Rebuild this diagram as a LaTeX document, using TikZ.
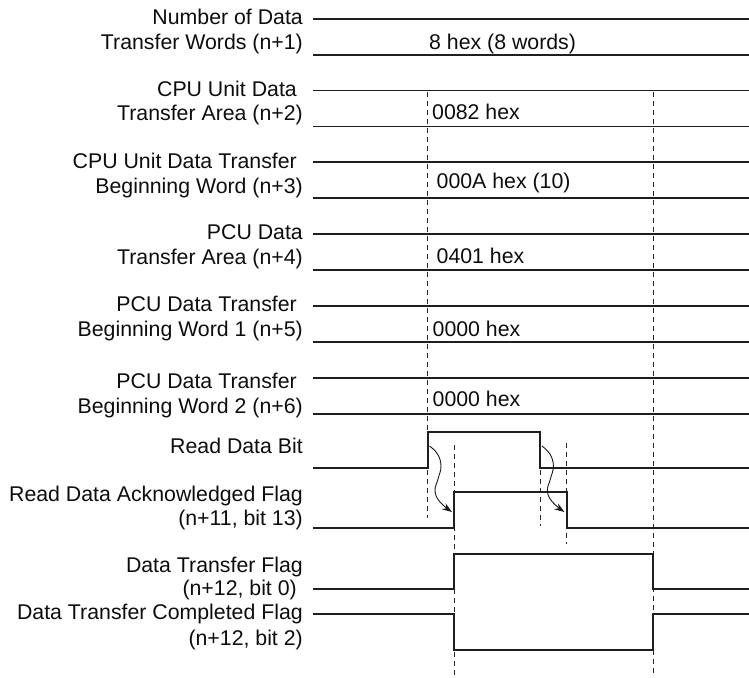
\documentclass[tikz,border=0pt]{standalone}
\usepackage{fontspec}
\setmainfont{Liberation Sans}
\usetikzlibrary{arrows.meta}
\newcommand{\labfont}{\fontsize{21.3}{25}\selectfont}
\begin{document}
\begin{tikzpicture}[x=1pt,y=-1pt,
  sig/.style={line width=1.9pt, draw=black!88, line join=miter},
  dsh/.style={line width=0.9pt, draw=black!85, dash pattern=on 5pt off 4pt},
  lbl/.style={font=\labfont, anchor=base east, inner sep=0pt, text=black!95},
  val/.style={font=\labfont, anchor=base west, inner sep=0pt, text=black!95},
  arr/.style={line width=0.9pt, draw=black!90, -{Stealth[length=10pt,width=7pt]}}]
\useasboundingbox (0,0) rectangle (749,677);

% register rows: top and bottom lines
\foreach \t in {19,90.5,162,234,306,378}{
  \draw[sig] (313,\t) -- (749,\t);
  \draw[sig] (313,\t+36) -- (749,\t+36);
}

% labels of register rows
\node[lbl] (l1a) at (303,24.5) {Number of Data};
\node[lbl] (l1b) at (303,50) {Transfer Words (n+1)};
\node[lbl] (l2a) at (297,96.5) {CPU Unit Data};
\node[lbl] (l2b) at (303,120) {Transfer Area (n+2)};
\node[lbl] (l3a) at (297,168) {CPU Unit Data Transfer};
\node[lbl] (l3b) at (303,193) {Beginning Word (n+3)};
\node[lbl] (l4a) at (303,239) {PCU Data};
\node[lbl] (l4b) at (303,264) {Transfer Area (n+4)};
\node[lbl] (l5a) at (297,311.5) {PCU Data Transfer};
\node[lbl] (l5b) at (303,336.5) {Beginning Word 1 (n+5)};
\node[lbl] (l6a) at (297,388.5) {PCU Data Transfer};
\node[lbl] (l6b) at (303,413) {Beginning Word 2 (n+6)};

% values
\node[val] (v1) at (429,49) {8 hex (8 words)};
\node[val] (v2) at (432,119) {0082 hex};
\node[val] (v3) at (436.5,188.5) {000A hex (10)};
\node[val] (v4) at (436.5,263) {0401 hex};
\node[val] (v5) at (432.5,336) {0000 hex};
\node[val] (v6) at (432.5,406) {0000 hex};

% signal labels
\node[lbl] (s1) at (303,453.5) {Read Data Bit};
\node[lbl] (s2a) at (303,501.5) {Read Data Acknowledged Flag};
\node[lbl] (s2b) at (303,525) {(n+11, bit 13)};
\node[lbl] (s3a) at (303,572) {Data Transfer Flag};
\node[lbl] (s3b) at (297,595.5) {(n+12, bit 0)};
\node[lbl] (s4a) at (303,619.5) {Data Transfer Completed Flag};
\node[lbl] (s4b) at (303,645) {(n+12, bit 2)};

% dashed guide lines
\draw[dsh] (427.7,92) -- (427.7,518);
\draw[dsh] (653,92) -- (653,677);
\draw[dsh] (454.3,445) -- (454.3,677);
\draw[dsh] (540,470) -- (540,526);
\draw[dsh] (566.7,443) -- (566.7,544);

% signals
\draw[sig] (313,468) -- (427.7,468) -- (427.7,432) -- (540,432) -- (540,468) -- (749,468);
\draw[sig] (313,527.7) -- (454.3,527.7) -- (454.3,492) -- (566.7,492) -- (566.7,527.7) -- (749,527.7);
\draw[sig] (313,589.3) -- (454.3,589.3) -- (454.3,553.7) -- (653,553.7) -- (653,589.3) -- (749,589.3);
\draw[sig] (313,614.3) -- (454.3,614.3) -- (454.3,650.3) -- (653,650.3) -- (653,614.3) -- (749,614.3);

% cause-effect arrows
\draw[arr] plot[smooth, tension=0.7] coordinates {(429.5,446) (437.5,454) (441,466) (438,479) (435,491) (440,502) (452,512)};
\draw[arr] plot[smooth, tension=0.7] coordinates {(541.9,446) (549.9,454) (553.4,466) (550.4,479) (547.4,491) (552.4,502) (564.4,512)};
\end{tikzpicture}
\end{document}
